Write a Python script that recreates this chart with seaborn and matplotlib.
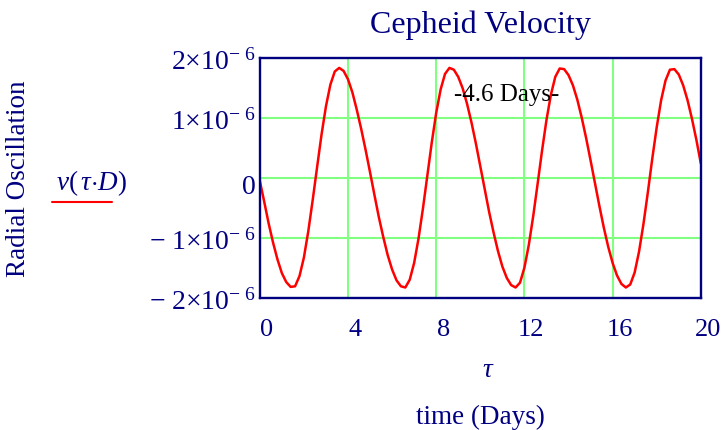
import numpy as np
import pandas as pd
import matplotlib
matplotlib.use("Agg")
import matplotlib.pyplot as plt
import matplotlib.transforms as mtransforms
from matplotlib.lines import Line2D
import seaborn as sns

# ---------------- data ----------------
days = np.linspace(0, 20, 101)          # tau, sampled every 0.2 day
velocity_e6 = [                          # v(tau*D) in units of 1e-6
    -0.05, -0.40, -0.76, -1.08, -1.36, -1.59, -1.74, -1.82,
    -1.81, -1.64, -1.33, -0.89, -0.37, 0.18, 0.72, 1.19, 1.55, 1.77,
    1.83, 1.78, 1.64, 1.42, 1.13, 0.81, 0.46, 0.09, -0.29, -0.66, -0.99,
    -1.29, -1.53, -1.71, -1.81,
    -1.83, -1.70, -1.42, -1.01, -0.51, 0.04, 0.59, 1.08, 1.47, 1.73, 1.83,
    1.80, 1.68, 1.49, 1.23, 0.92, 0.57, 0.19, -0.19, -0.57, -0.91, -1.22,
    -1.48, -1.67, -1.79, -1.83,
    -1.75, -1.50, -1.12, -0.64, -0.10, 0.45, 0.96, 1.38, 1.68, 1.82,
    1.81, 1.71, 1.54, 1.30, 1.00, 0.66, 0.29, -0.09, -0.47, -0.83, -1.15,
    -1.42, -1.63, -1.77, -1.83,
    -1.78, -1.58, -1.23, -0.77, -0.24, 0.32, 0.84, 1.29, 1.62, 1.80,
    1.81, 1.72, 1.54, 1.29, 0.98, 0.63, 0.24,
]
scale = 1e-6
x_ticks = [0, 4, 8, 12, 16, 20]
x_tick_labels = ["0", "4", "8", "12", "16", "20"]
y_ticks_e6 = [-2, -1, 0, 1, 2]
y_tick_labels = [r"$-\ 2{\times}10^{-\ 6}$", r"$-\ 1{\times}10^{-\ 6}$", "0",
                 r"$1{\times}10^{-\ 6}$", r"$2{\times}10^{-\ 6}$"]
title_text = "Cepheid Velocity"
y_title = "Radial Oscillation"
series_label = r"$v(\,\tau{\cdot}D)$"
x_var = r"$\tau$"
x_title = "time (Days)"
note_text = "-4.6 Days-"
note_pos = (11.2, 1.27e-6)

assert len(velocity_e6) == len(days)
df = pd.DataFrame({"tau": days, "v": np.array(velocity_e6) * scale})

# ---------------- style ----------------
sns.set_theme(style="white")
plt.rcParams["font.family"] = ["Liberation Serif", "DejaVu Serif"]
plt.rcParams["mathtext.fontset"] = "custom"
plt.rcParams["mathtext.rm"] = "Liberation Serif"
plt.rcParams["mathtext.it"] = "Liberation Serif:italic"
plt.rcParams["mathtext.bf"] = "Liberation Serif:bold"

NAVY = "#000080"
GREEN = "#80ff80"
W, H = 722, 430

fig = plt.figure(figsize=(W / 100, H / 100), dpi=100)
fig.patch.set_facecolor("white")
ax = fig.add_axes([259.8 / W, 1 - 297.7 / H, 441.0 / W, 240.0 / H])
ax.set_facecolor("white")

sns.lineplot(data=df, x="tau", y="v", ax=ax, color="red", linewidth=1.8,
             legend=False, zorder=3)

ax.set_xlim(0, 20)
ax.set_ylim(-2 * scale, 2 * scale)
ax.set_xticks(x_ticks)
ax.set_xticklabels(x_tick_labels)
ax.set_yticks([t * scale for t in y_ticks_e6])
ax.set_yticklabels(y_tick_labels)
ax.set_xlabel("")
ax.set_ylabel("")

ax.grid(True, color=GREEN, linewidth=1.5)
ax.set_axisbelow(True)
for sp in ax.spines.values():
    sp.set_visible(True)
    sp.set_color(NAVY)
    sp.set_linewidth(1.7)
    sp.set_zorder(4)

ax.tick_params(axis="both", length=0, labelcolor=NAVY, labelsize=19)
ax.tick_params(axis="y", labelsize=20, pad=3)
ax.tick_params(axis="x", pad=15)

# Mathcad-style label offsets
for lbl in ax.get_xticklabels():
    lbl.set_transform(lbl.get_transform() +
                      mtransforms.ScaledTranslation(7 / 100, 0, fig.dpi_scale_trans))
for lbl in ax.get_yticklabels():
    if lbl.get_text() == "0":
        lbl.set_transform(lbl.get_transform() +
                          mtransforms.ScaledTranslation(0, -7 / 100, fig.dpi_scale_trans))
    else:
        lbl.set_transform(lbl.get_transform() +
                          mtransforms.ScaledTranslation(0, -2 / 100, fig.dpi_scale_trans))

# annotation inside the plot
ax.text(note_pos[0], note_pos[1], note_text, ha="center", va="baseline",
        fontsize=18, color="black", zorder=5)

# titles & labels
fig.text(480 / W, 1 - 33 / H, title_text, ha="center", va="baseline",
         fontsize=23, color=NAVY)
fig.text(19 / W, 1 - 179 / H, y_title, rotation=90, ha="center", va="center",
         fontsize=19.5, color=NAVY)
fig.text(91 / W, 1 - 190 / H, series_label, ha="center", va="baseline",
         fontsize=19.5, color=NAVY)
fig.add_artist(Line2D([52 / W, 112 / W], [1 - 202 / H, 1 - 202 / H],
                      color="red", linewidth=1.5, transform=fig.transFigure))
fig.text(488 / W, 1 - 377 / H, x_var, ha="center", va="baseline",
         fontsize=19.5, color=NAVY)
fig.text(480 / W, 1 - 424 / H, x_title, ha="center", va="baseline",
         fontsize=19.5, color=NAVY)

fig.savefig("out.png", dpi=100, facecolor="white")
